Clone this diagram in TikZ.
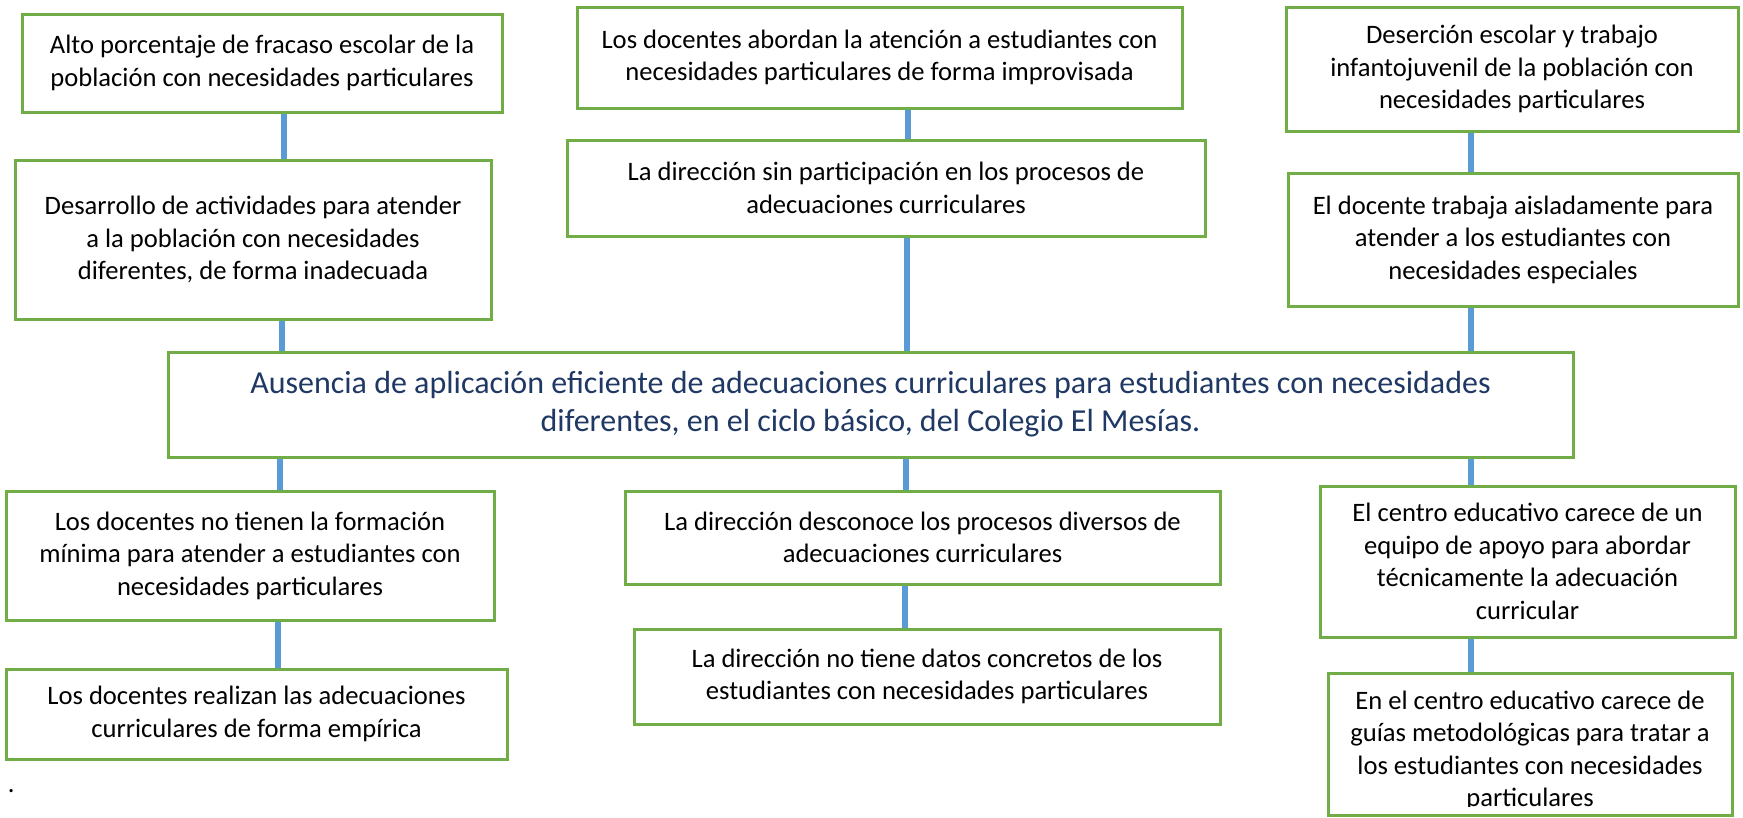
\documentclass[tikz,border=0pt]{standalone}
\usepackage{fontspec}
\setmainfont{Carlito}
\usetikzlibrary{backgrounds}
\definecolor{boxgreen}{HTML}{70AD47}
\definecolor{connblue}{HTML}{5B9BD5}
\definecolor{titleblue}{HTML}{1F3864}
\begin{document}
\begin{tikzpicture}[x=1pt,y=-1pt,
  box/.style={draw=boxgreen, line width=3pt, inner sep=0pt, outer sep=0pt,
    align=center, text=black, font=\fontsize{26.6}{32.5}\selectfont},
  title/.style={box, text=titleblue, font=\fontsize{32}{38}\selectfont},
  plain/.style={inner sep=0pt, outer sep=0pt, align=center, text=black,
    font=\fontsize{26.6}{32.5}\selectfont},
  conn/.style={draw=connblue, line width=6pt}]
\useasboundingbox (0,0) rectangle (1743,817);

% top row
\node[box, minimum width=480pt, minimum height=98pt] (A1) at (262,63)
  {Alto porcentaje de fracaso escolar de la\\población con necesidades particulares};
\node[box, minimum width=476pt, minimum height=159pt] (A2) at (253,239.5)
  {Desarrollo de actividades para atender\\a la población con necesidades\\diferentes, de forma inadecuada};
\node[box, minimum width=605pt, minimum height=101pt] (B1) at (879.5,57.5)
  {Los docentes abordan la atención a estudiantes con\\necesidades particulares de forma improvisada};
\node[box, minimum width=638pt, minimum height=96pt] (B2) at (886,188)
  {La dirección sin participación en los procesos de\\adecuaciones curriculares};
\node[box, minimum width=452pt, minimum height=124pt] (C1) at (1512,69)
  {Deserción escolar y trabajo\\infantojuvenil de la población con\\necesidades particulares};
\node[box, minimum width=450pt, minimum height=133pt] (C2) at (1513,239.5)
  {El docente trabaja aisladamente para\\atender a los estudiantes con\\necesidades especiales};

% central problem
\node[title, minimum width=1405pt, minimum height=105pt] (CT) at (870.5,404.5)
  {Ausencia de aplicación eficiente de adecuaciones curriculares para estudiantes con necesidades\\diferentes, en el ciclo básico, del Colegio El Mesías.};

% bottom row
\node[box, minimum width=488pt, minimum height=129pt] (D1) at (250,555.5)
  {Los docentes no tienen la formación\\mínima para atender a estudiantes con\\necesidades particulares};
\node[box, minimum width=501pt, minimum height=90pt] (D2) at (256.5,714)
  {Los docentes realizan las adecuaciones\\curriculares de forma empírica};
\node[box, minimum width=595pt, minimum height=93pt] (E1) at (922.5,537.5)
  {La dirección desconoce los procesos diversos de\\adecuaciones curriculares};
\node[box, minimum width=586pt, minimum height=95pt] (E2) at (927,676.5)
  {La dirección no tiene datos concretos de los\\estudiantes con necesidades particulares};
\node[box, minimum width=415pt, minimum height=151pt] (F1) at (1527.5,561.5)
  {El centro educativo carece de un\\equipo de apoyo para abordar\\técnicamente la adecuación\\curricular};
\node[box, minimum width=404pt, minimum height=142pt] (F2) at (1530,744) {};
\begin{scope}
  \clip (1328,673) rectangle (1732,806);
  \node[plain] (F2t) at (1530,751)
    {En el centro educativo carece de\\guías metodológicas para tratar a\\los estudiantes con necesidades\\particulares};
\end{scope}

\node[plain, anchor=base west] (dot) at (8,792) {.};

% background and connectors
\begin{scope}[on background layer]
\fill[white] (0,0) rectangle (1743,817);
\draw[conn] (284,0 |- A1.south) -- (284,0 |- A2.north);
\draw[conn] (282,0 |- A2.south) -- (282,0 |- CT.north);
\draw[conn] (280,0 |- CT.south) -- (280,0 |- D1.north);
\draw[conn] (278,0 |- D1.south) -- (278,0 |- D2.north);
\draw[conn] (908,0 |- B1.south) -- (908,0 |- B2.north);
\draw[conn] (907,0 |- B2.south) -- (907,0 |- CT.north);
\draw[conn] (906,0 |- CT.south) -- (906,0 |- E1.north);
\draw[conn] (905,0 |- E1.south) -- (905,0 |- E2.north);
\draw[conn] (1471,0 |- C1.south) -- (1471,0 |- C2.north);
\draw[conn] (1471,0 |- C2.south) -- (1471,0 |- CT.north);
\draw[conn] (1471,0 |- CT.south) -- (1471,0 |- F1.north);
\draw[conn] (1471,0 |- F1.south) -- (1471,0 |- F2.north);
\end{scope}
\end{tikzpicture}
\end{document}
